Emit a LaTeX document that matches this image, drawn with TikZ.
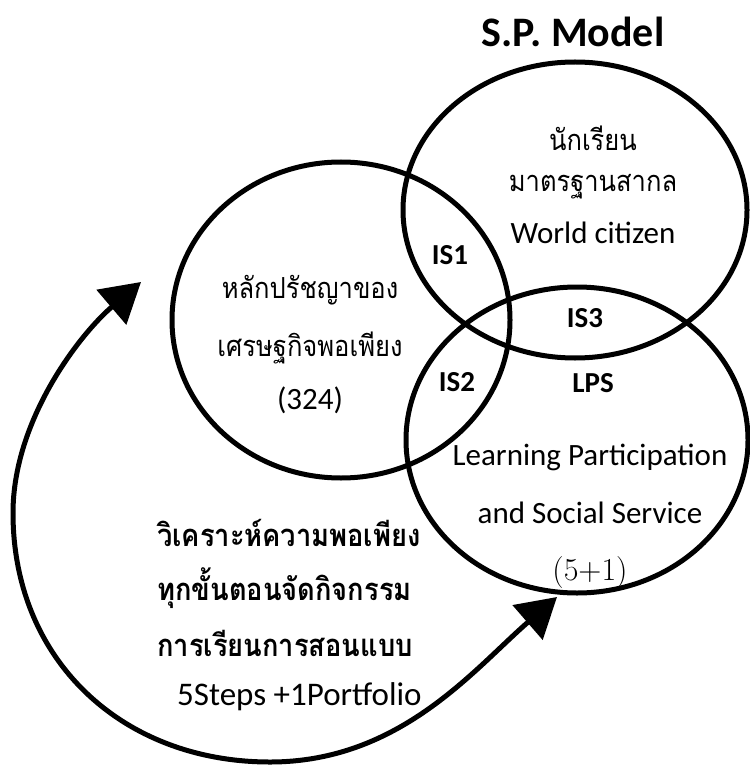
\documentclass[tikz,border=0pt]{standalone}
\usepackage{fontspec}
\newfontfamily\carl{Carlito}
\newfontfamily\thai[Script=Thai,FakeStretch=0.88]{Loma}
\usetikzlibrary{shapes.geometric,arrows.meta}
\tikzset{
  ring/.style={ellipse, draw, line width=5pt, inner sep=0pt},
  lat/.style={font=\carl\fontsize{31}{36}\selectfont, inner sep=0pt},
  th/.style={font=\thai\fontsize{29}{34}\selectfont, inner sep=0pt},
  thb/.style={font=\thai\bfseries\fontsize{31}{36}\selectfont, inner sep=0pt, anchor=west},
  isl/.style={font=\carl\bfseries\fontsize{29}{34}\selectfont, inner sep=0pt},
  cycle arrow/.style={line width=5pt, {Triangle[length=39pt,width=45pt]}-{Triangle[length=39pt,width=45pt]}},
}
\begin{document}
\begin{tikzpicture}[x=1pt,y=-1pt]
\useasboundingbox (0,0) rectangle (749,767);
% circles
\node[ring, minimum width=338pt, minimum height=316pt] (phil) at (341,320) {};
\node[ring, minimum width=344pt, minimum height=296pt] (world) at (575,210) {};
\node[ring, minimum width=342pt, minimum height=306pt] (lps) at (577,440) {};
% title
\node[font=\carl\bfseries\fontsize{42}{50}\selectfont, inner sep=0pt] (title) at (573,32) {S.P. Model};
% top circle text
\node[th] (w1) at (593,138) {นักเรียน};
\node[th] (w2) at (593,187) {มาตรฐานสากล};
\node[lat] (w3) at (593,233) {World citizen};
% left circle text
\node[th] (p1) at (310,290) {หลักปรัชญาของ};
\node[th] (p2) at (310,348) {เศรษฐกิจพอเพียง};
\node[lat] (p3) at (310,400) {(324)};
% intersections
\node[isl] (is1) at (450,255) {IS1};
\node[isl] (is2) at (457,382) {IS2};
\node[isl] (is3) at (585,318) {IS3};
\node[isl] (lpst) at (593,383) {LPS};
% bottom circle text
\node[lat] (l1) at (590,457) {Learning Participation};
\node[lat] (l2) at (590,513) {and Social Service};
\node[font=\fontsize{32}{38}\selectfont, inner sep=0pt] (l3) at (590,573) {(5+1)};
% bottom-left block
\node[thb] (b1) at (157,533) {วิเคราะห์ความพอเพียง};
\node[thb] (b2) at (157,588) {ทุกขั้นตอนจัดกิจกรรม};
\node[thb] (b3) at (157,643) {การเรียนการสอนแบบ};
\node[font=\carl\fontsize{33}{38}\selectfont, inner sep=0pt, anchor=west] (b4) at (177,697) {5Steps +1Portfolio};
% cycle arrow
\coordinate (ta) at (141,282);
\coordinate (tb) at (557,597);
\draw[cycle arrow] (ta) .. controls (80,334) and (13,420) .. (13,513)
  .. controls (13,660) and (122,762) .. (270,762)
  .. controls (400,762) and (474,669) .. (tb);
\end{tikzpicture}
\end{document}
